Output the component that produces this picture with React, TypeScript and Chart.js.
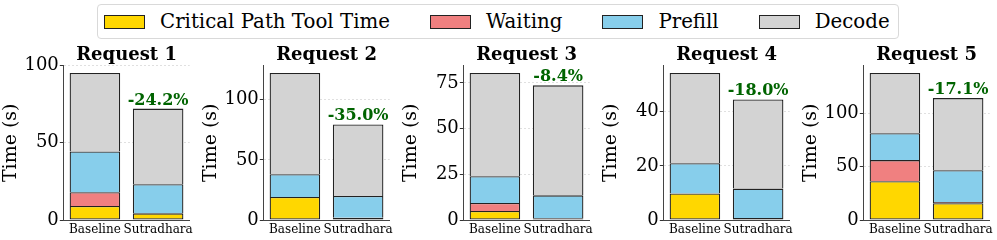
import React, { useEffect, useRef } from "react";
import { Chart, registerables } from "chart.js";

Chart.register(...registerables);

const requestTitles = ["Request 1", "Request 2", "Request 3", "Request 4", "Request 5"];
const systems = ["Baseline", "Sutradhara"];
const seriesNames = ["Critical Path Tool Time", "Waiting", "Prefill", "Decode"];
// values per request: [Baseline, Sutradhara]
const toolTime = [[9.1, 4.3], [19.2, 1.9], [4.9, 0.9], [9.8, 0.7], [36.3, 15.6]];
const waitingTime = [[8.9, 0], [0, 0], [4.4, 0], [0, 0], [19.7, 1.2]];
const prefillTime = [[26.4, 18.9], [18.9, 18.1], [14.7, 12.6], [11.2, 10.9], [25.2, 29.8]];
const decodeTime = [[50.9, 49.0], [84.1, 59.4], [56.5, 60.2], [33.3, 32.9], [56.3, 67.4]];
const reductionLabels = ["-24.2%", "-35.0%", "-8.4%", "-18.0%", "-17.1%"];
const yTickStep = [50, 50, 25, 20, 50];

const COLORS = ["#FFD700", "#F08080", "#87CEEB", "#D3D3D3"];
const FONT = "'DejaVu Serif', serif";

function Panel({ index }: { index: number }) {
  const ref = useRef<HTMLCanvasElement>(null);
  useEffect(() => {
    const series = [toolTime, waitingTime, prefillTime, decodeTime];
    const totals = systems.map((_, j) => series.reduce((s, arr) => s + arr[index][j], 0));
    const yMax = Math.max(...totals) * 1.05;
    const annotate = {
      id: "reduction",
      afterDatasetsDraw(chart: any) {
        const meta = chart.getDatasetMeta(series.length - 1);
        const el = meta.data[1];
        const ctx = chart.ctx;
        ctx.save();
        ctx.font = `bold 16px ${FONT}`;
        ctx.fillStyle = "#006400";
        ctx.textAlign = "center";
        ctx.textBaseline = "alphabetic";
        ctx.fillText(reductionLabels[index], el.x, el.y - 4);
        ctx.restore();
      },
    };
    const chart = new Chart(ref.current as HTMLCanvasElement, {
      type: "bar",
      data: {
        labels: systems,
        datasets: series.map((arr, k) => ({
          label: seriesNames[k],
          data: arr[index],
          backgroundColor: COLORS[k],
          borderColor: "#222",
          borderWidth: { top: 1.3, left: 1.3, right: 1.3, bottom: k === 0 ? 1.3 : 0 },
          borderSkipped: false,
          barPercentage: 0.8,
          categoryPercentage: 1,
        })),
      },
      options: {
        responsive: false,
        animation: false,
        devicePixelRatio: 1,
        layout: { padding: { left: 0, right: 4.7, top: 0, bottom: 0 } },
        plugins: {
          legend: { display: false },
          tooltip: { enabled: false },
          title: {
            display: true,
            text: requestTitles[index],
            font: { family: FONT, size: 18, weight: "bold" },
            color: "#000",
            padding: { top: 5, bottom: -1 },
            fullSize: false,
          },
        },
        scales: {
          x: {
            stacked: true,
            grid: {
              display: true,
              drawOnChartArea: false,
              drawTicks: false,
            },
            border: { display: true, color: "#444", width: 1 },
            ticks: {
              font: { family: FONT, size: 12 },
              color: "#000",
              padding: 2.5,
              maxRotation: 0,
              autoSkip: false,
            },
            afterFit: (s: any) => {
              s.height = 20;
            },
          },
          y: {
            stacked: true,
            min: 0,
            max: yMax,
            bounds: "data",
            ticks: {
              stepSize: yTickStep[index],
              includeBounds: false,
              font: { family: FONT, size: 18 },
              color: "#000",
              padding: 1,
              callback: (v: any) => String(Math.round(Number(v))),
            },
            grid: {
              color: "rgba(0,0,0,0.12)",
              lineWidth: 1,
              tickLength: 3.5,
              tickColor: "#333",
            },
            border: { display: true, color: "#444", width: 1, dash: [2, 2] },
            title: {
              display: true,
              text: "Time (s)",
              font: { family: FONT, size: 19 },
              color: "#000",
              padding: { top: 0, bottom: 0 },
            },
            afterFit: (s: any) => {
              s.width = 63.3;
            },
          },
        },
      } as any,
      plugins: [annotate],
    });
    return () => chart.destroy();
  }, [index]);
  return (
    <canvas
      ref={ref}
      width={197}
      height={200}
      style={{ position: "absolute", left: 200 * index, top: 40, width: 197, height: 200 }}
    />
  );
}

export default function App() {
  return (
    <div
      style={{
        position: "absolute",
        left: 0,
        top: 0,
        width: 997,
        height: 240,
        overflow: "hidden",
        background: "#fff",
      }}
    >
      <div
        style={{
          position: "absolute",
          left: 96.5,
          top: 4,
          width: 802,
          height: 35,
          border: "1px solid #d9d9d9",
          borderRadius: 4,
          boxSizing: "border-box",
          display: "flex",
          alignItems: "center",
          paddingLeft: 6.5,
          fontFamily: FONT,
          fontSize: 19.8,
          color: "#000",
          background: "#fff",
        }}
      >
        {seriesNames.map((n, k) => (
          <div key={n} style={{ display: "flex", alignItems: "center", marginRight: 40 }}>
            <span
              style={{
                display: "inline-block",
                width: 41,
                height: 14,
                background: COLORS[k],
                border: "1px solid #222",
                boxSizing: "border-box",
                marginRight: 15,
              }}
            />
            <span style={{ lineHeight: "22px", whiteSpace: "nowrap" }}>{n}</span>
          </div>
        ))}
      </div>
      {requestTitles.map((_, i) => (
        <Panel key={i} index={i} />
      ))}
    </div>
  );
}
